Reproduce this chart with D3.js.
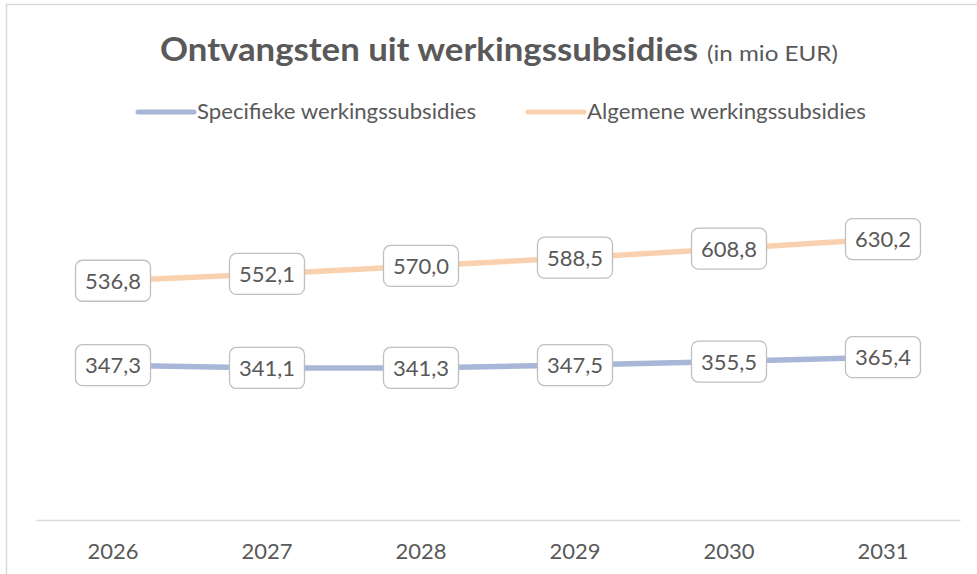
<!DOCTYPE html>
<html><head><meta charset="utf-8">
<script src="https://cdn.jsdelivr.net/npm/d3@7"></script>
<style>body{margin:0;background:#fff}svg{display:block}</style>
</head><body>
<script>
const years = ["2026","2027","2028","2029","2030","2031"];
const specifieke = [347.3, 341.1, 341.3, 347.5, 355.5, 365.4];
const algemene = [536.8, 552.1, 570.0, 588.5, 608.8, 630.2];
const seriesNames = ["Specifieke werkingssubsidies", "Algemene werkingssubsidies"];
const seriesColors = ["#A8B7D8", "#FAD1AE"];
const titleMain = "Ontvangsten uit werkingssubsidies";
const titleSub = "(in mio EUR)";

const W = 977, H = 574;
const svg = d3.select("body").append("svg").attr("width", W).attr("height", H);
const font = "Lato, 'Open Sans', sans-serif";
const txt = "#595959";

// frame
svg.append("rect").attr("x", 6.5).attr("y", 4.5).attr("width", W + 10).attr("height", H + 10)
  .attr("fill", "#fff").attr("stroke", "#d9d9d9").attr("stroke-width", 1.5);

// title
svg.append("text").attr("x", 160).attr("y", 61).attr("font-family", font).attr("fill", txt)
  .attr("font-size", 32).attr("font-weight", "bold")
  .attr("textLength", 538).attr("lengthAdjust", "spacingAndGlyphs").text(titleMain);
svg.append("text").attr("x", 707).attr("y", 61).attr("font-family", font).attr("fill", txt)
  .attr("font-size", 21)
  .attr("textLength", 131).attr("lengthAdjust", "spacingAndGlyphs").text(titleSub);

// scales
const x = d3.scaleBand().domain(years).range([36, 960]);
const y = d3.scaleLinear().domain([0, 700]).range([520, 208]);

// axis
const xAxis = svg.append("g").attr("transform", "translate(0,520)")
  .call(d3.axisBottom(x).tickSize(0).tickPadding(0));
xAxis.select(".domain").attr("stroke", "#d9d9d9").attr("stroke-width", 1.5);
xAxis.selectAll("text").attr("font-family", font).attr("font-size", 22).attr("fill", txt)
  .attr("dy", null).attr("y", 39);

// legend
const legend = [
  {name: seriesNames[0], color: seriesColors[0], x0: 138},
  {name: seriesNames[1], color: seriesColors[1], x0: 528}
];
legend.forEach(l => {
  svg.append("line").attr("x1", l.x0).attr("x2", l.x0 + 56).attr("y1", 112).attr("y2", 112)
    .attr("stroke", l.color).attr("stroke-width", 5).attr("stroke-linecap", "round");
  svg.append("text").attr("x", l.x0 + 59).attr("y", 119).attr("font-family", font)
    .attr("font-size", 21).attr("fill", txt)
    .attr("textLength", 279).attr("lengthAdjust", "spacingAndGlyphs").text(l.name);
});

// lines
const data = [specifieke, algemene];
const line = d3.line().x((d, i) => x(years[i]) + x.bandwidth() / 2).y(d => y(d));
data.forEach((s, k) => {
  svg.append("path").datum(s).attr("d", line).attr("fill", "none")
    .attr("stroke", seriesColors[k]).attr("stroke-width", 5.5).attr("stroke-linecap", "round");
});

// labels
const fmt = v => v.toFixed(1).replace(".", ",");
data.forEach(s => {
  s.forEach((v, i) => {
    const cx = x(years[i]) + x.bandwidth() / 2, cy = y(v);
    const g = svg.append("g");
    g.append("rect").attr("x", cx - 37.5).attr("y", cy - 20.5).attr("width", 75).attr("height", 41)
      .attr("rx", 7).attr("fill", "#fff").attr("stroke", "#bfbfbf").attr("stroke-width", 1.3);
    g.append("text").attr("x", cx).attr("y", cy + 8).attr("text-anchor", "middle")
      .attr("font-family", font).attr("font-size", 22).attr("fill", txt).text(fmt(v));
  });
});
</script>
</body></html>
